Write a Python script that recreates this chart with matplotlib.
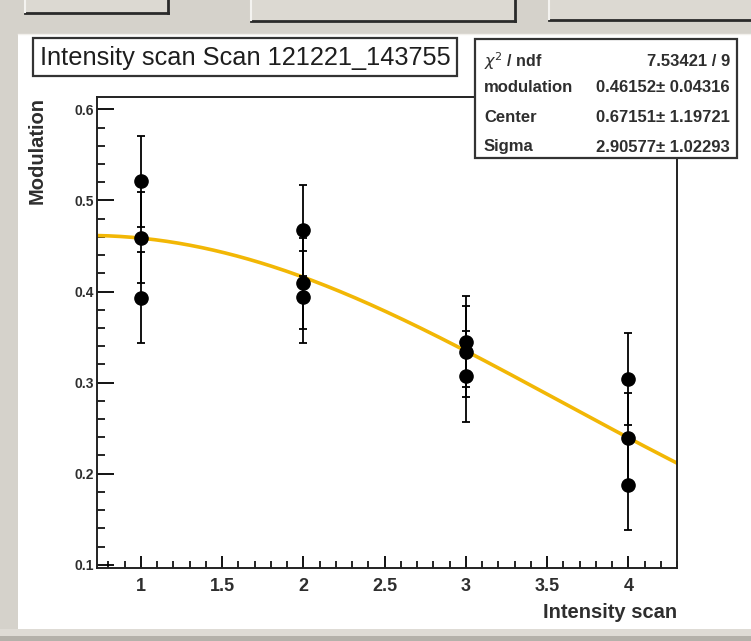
import matplotlib
matplotlib.use("Agg")
import matplotlib.pyplot as plt
import numpy as np
from matplotlib.patches import Rectangle
from matplotlib.ticker import MultipleLocator, FixedLocator

# measured points, three runs per intensity setting
scan_x = [1, 1, 1, 2, 2, 2, 3, 3, 3, 4, 4, 4]
modulation = [0.521, 0.459, 0.393,
              0.467, 0.409, 0.394,
              0.345, 0.334, 0.307,
              0.304, 0.239, 0.188]
mod_err = [0.05] * 12

x_ticks = [1, 1.5, 2, 2.5, 3, 3.5, 4]
x_ticklabels = ["1", "1.5", "2", "2.5", "3", "3.5", "4"]
y_ticks = [0.1, 0.2, 0.3, 0.4, 0.5, 0.6]
y_ticklabels = ["0.1", "0.2", "0.3", "0.4", "0.5", "0.6"]

# gaussian fit result (from the stats box)
fit_mod = 0.46152
fit_center = 0.67151
fit_sigma = 2.90577
stats_rows = [("modulation", "0.46152\u00b1 0.04316"),
              ("Center", "0.67151\u00b1 1.19721"),
              ("Sigma", "2.90577\u00b1 1.02293")]
chi2_text = "7.53421 / 9"
title = "Intensity scan Scan 121221_143755"

W, H = 751, 641
GREY = "#d5d2cb"
FONT = "Liberation Sans"
TXT = "#2e2e2e"


def main():
    fig = plt.figure(figsize=(W / 100, H / 100), dpi=100)
    fig.patch.set_facecolor("white")

    # background: window chrome around the canvas, in pixel coords
    bg = fig.add_axes([0, 0, 1, 1], zorder=0)
    bg.set_xlim(0, W)
    bg.set_ylim(H, 0)
    bg.axis("off")
    bg.add_patch(Rectangle((0, 0), W, 34, fc=GREY, ec="none"))
    bg.add_patch(Rectangle((0, 0), 18, H, fc=GREY, ec="none"))
    bg.add_patch(Rectangle((0, 629), W, 12, fc="#dedbd5", ec="none"))
    bg.add_patch(Rectangle((0, 636), W, 5, fc="#b4b1aa", ec="none"))
    bg.plot([18, W], [33.5, 33.5], color="#f2f0ec", lw=1)
    for x0, x1, yb in [(25, 168, 13), (251, 515, 21), (549, 760, 20)]:
        bg.add_patch(Rectangle((x0, -5), x1 - x0, yb + 5, fc="#dcd9d2", ec="none"))
        bg.plot([x0, x1], [yb, yb], color="#2a2a2a", lw=2)
        bg.plot([x1, x1], [-5, yb], color="#2a2a2a", lw=2)
        bg.plot([x0, x0], [-5, yb - 1], color="#f4f3f0", lw=1.5)

    # main plot area
    ax = fig.add_axes([97 / W, 1 - 568 / H, 580 / W, 471 / H], zorder=1)
    xs = np.linspace(0.73, 4.3, 300)
    ax.plot(xs, fit_mod * np.exp(-0.5 * ((xs - fit_center) / fit_sigma) ** 2),
            color="#f2b705", lw=2.6, zorder=2)
    ax.errorbar(scan_x, modulation, yerr=mod_err, fmt="o", color="black",
                ms=9.5, elinewidth=1.3, capsize=3, capthick=1.3, zorder=3)

    ax.set_xlim(0.73, 4.3)
    ax.set_ylim(0.0965, 0.6135)
    ax.xaxis.set_major_locator(FixedLocator(x_ticks))
    ax.xaxis.set_minor_locator(MultipleLocator(0.1))
    ax.yaxis.set_major_locator(FixedLocator(y_ticks))
    ax.yaxis.set_minor_locator(MultipleLocator(0.02))
    ax.set_xticklabels(x_ticklabels)
    ax.set_yticklabels(y_ticklabels)
    ax.tick_params(axis="x", which="major", direction="in", length=9, width=1.3,
                   pad=7, labelsize=13)
    ax.tick_params(axis="x", which="minor", direction="in", length=5, width=1.2)
    ax.tick_params(axis="y", which="major", direction="in", length=12, width=1.3,
                   pad=2, labelsize=10)
    ax.tick_params(axis="y", which="minor", direction="in", length=6, width=1.2)
    for lab in ax.get_xticklabels() + ax.get_yticklabels():
        lab.set_fontfamily(FONT)
        lab.set_fontweight("bold")
        lab.set_color(TXT)
    for sp in ax.spines.values():
        sp.set_linewidth(1.4)
        sp.set_color("#222222")

    ax.set_xlabel("Intensity scan", fontfamily=FONT, fontweight="bold",
                  fontsize=14.5, color=TXT, loc="right", labelpad=6)
    ax.set_ylabel("Modulation", fontfamily=FONT, fontweight="bold",
                  fontsize=14.5, color=TXT, loc="top", labelpad=20)

    # title and stats boxes drawn over the plot
    ov = fig.add_axes([0, 0, 1, 1], zorder=2)
    ov.set_xlim(0, W)
    ov.set_ylim(H, 0)
    ov.axis("off")
    ov.patch.set_alpha(0)
    ov.add_patch(Rectangle((33, 38), 424, 38, fc="white", ec="#333333", lw=1.6))
    ov.text(245, 58, title, ha="center", va="center", fontsize=18.3,
            fontfamily=FONT, color="#1e1e1e")

    ov.add_patch(Rectangle((475, 39), 262, 119, fc="white", ec="#333333", lw=1.6))
    ov.text(484, 61, r"$\chi^{2}$ / ndf", ha="left", va="center", fontsize=11.5,
            fontfamily=FONT, fontweight="bold", color=TXT)
    ov.text(730, 61, chi2_text, ha="right", va="center", fontsize=12,
            fontfamily=FONT, fontweight="bold", color=TXT)
    for i, (name, val) in enumerate(stats_rows):
        y = 88 + i * 29.5
        ov.text(484, y, name, ha="left", va="center", fontsize=12,
                fontfamily=FONT, fontweight="bold", color=TXT)
        ov.text(730, y, val, ha="right", va="center", fontsize=12,
                fontfamily=FONT, fontweight="bold", color=TXT)

    fig.savefig("out.png", dpi=100)


if __name__ == '__main__':
    main()
